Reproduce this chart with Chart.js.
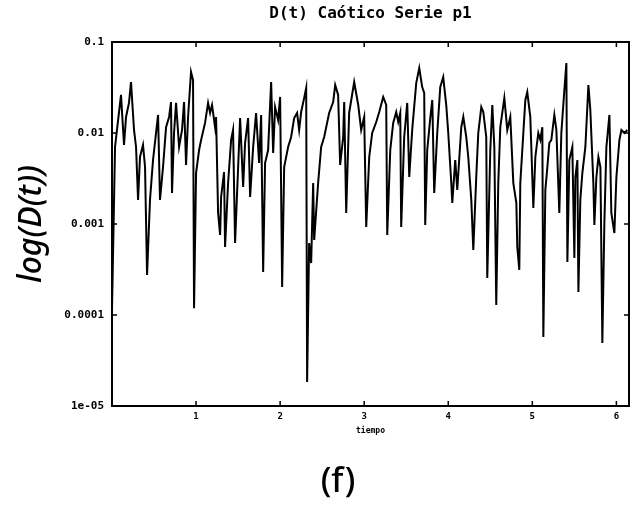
<!DOCTYPE html>
<html>
<head>
<meta charset="utf-8">
<script src="https://cdn.jsdelivr.net/npm/chart.js@4/dist/chart.umd.min.js"></script>
<style>
  html, body { margin: 0; padding: 0; background: #fff; }
  #wrap { width: 636px; height: 515px; }
  canvas { display: block; }
</style>
</head>
<body>
<div id="wrap"><canvas id="c" width="636" height="515"></canvas></div>
<script>
// ---- data ----
const chartTitle = "D(t) Caótico Serie p1";
const xAxisTitle = "tiempo";
const yAxisTitle = "log(D(t))";
const panelLabel = "(f)";

const xTickValues = [1, 2, 3, 4, 5, 6];
const xTickLabels = ["1", "2", "3", "4", "5", "6"];
const yTickValues = [0.1, 0.01, 0.001, 0.0001, 0.00001];
const yTickLabels = ["0.1", "0.01", "0.001", "0.0001", "1e-05"];

const time = [
  0.000,0.036,0.107,0.143,0.167,0.202,0.226,0.262,0.286,0.310,
  0.333,0.369,0.393,0.417,0.452,0.488,0.548,0.571,0.607,0.643,
  0.679,0.702,0.714,0.738,0.762,0.798,0.833,0.857,0.881,0.905,
  0.940,0.964,0.976,1.000,1.036,1.060,1.107,1.143,1.167,1.190,
  1.226,1.238,1.262,1.286,1.298,1.333,1.345,1.381,1.417,1.440,
  1.464,1.524,1.560,1.583,1.619,1.643,1.679,1.714,1.750,1.774,
  1.798,1.821,1.857,1.893,1.917,1.940,1.976,2.000,2.024,2.048,
  2.095,2.131,2.167,2.202,2.226,2.250,2.286,2.310,2.321,2.345,
  2.369,2.393,2.405,2.452,2.488,2.524,2.583,2.631,2.655,2.690,
  2.714,2.750,2.762,2.786,2.821,2.881,2.929,2.964,3.000,3.024,
  3.060,3.095,3.143,3.179,3.226,3.262,3.274,3.310,3.345,3.381,
  3.405,3.429,3.440,3.476,3.512,3.536,3.571,3.619,3.655,3.690,
  3.714,3.726,3.750,3.786,3.810,3.833,3.869,3.905,3.940,3.976,
  4.000,4.036,4.048,4.083,4.107,4.155,4.179,4.214,4.238,4.274,
  4.298,4.333,4.357,4.393,4.417,4.452,4.464,4.500,4.524,4.548,
  4.571,4.595,4.619,4.667,4.702,4.738,4.774,4.810,4.821,4.845,
  4.857,4.893,4.917,4.940,4.976,4.988,5.012,5.036,5.071,5.095,
  5.119,5.131,5.155,5.179,5.202,5.226,5.262,5.286,5.321,5.345,
  5.381,5.405,5.417,5.440,5.476,5.500,5.512,5.536,5.548,5.571,
  5.595,5.631,5.667,5.690,5.726,5.738,5.762,5.786,5.810,5.833,
  5.857,5.881,5.917,5.940,5.976,6.000,6.036,6.060,6.095,6.131
];

const dValues = [
  0.000114,0.00702,0.0262,0.00738,0.0150,0.0214,0.0363,0.0108,0.00702,0.00184,
  0.00545,0.00738,0.00423,0.000275,0.00184,0.00505,0.0158,0.00184,0.00423,0.0116,
  0.0150,0.0219,0.00219,0.0100,0.0214,0.00702,0.0108,0.0219,0.00445,0.0150,
  0.0468,0.0382,0.000119,0.00363,0.00650,0.00838,0.0129,0.0214,0.0166,0.0203,
  0.0116,0.0150,0.00132,0.000757,0.00198,0.00372,0.000558,0.00282,0.00838,0.0108,
  0.000618,0.0146,0.00255,0.00776,0.0146,0.00198,0.00702,0.0166,0.00468,0.0158,
  0.000297,0.00468,0.00650,0.0363,0.00603,0.0193,0.0139,0.0249,0.000203,0.00423,
  0.00702,0.00904,0.0146,0.0166,0.0108,0.0170,0.0243,0.0313,0.0000184,0.000618,
  0.000372,0.00282,0.000667,0.00282,0.00702,0.00904,0.0166,0.0219,0.0337,0.0262,
  0.00445,0.00904,0.0219,0.00132,0.0166,0.0363,0.0203,0.0108,0.0150,0.000927,
  0.00545,0.0100,0.0132,0.0170,0.0249,0.0203,0.000757,0.00650,0.0129,0.0170,
  0.0132,0.0166,0.000927,0.00904,0.0214,0.00328,0.0108,0.0354,0.0518,0.0320,
  0.0275,0.000975,0.00650,0.0146,0.0231,0.00219,0.0100,0.0320,0.0412,0.0203,
  0.0100,0.00282,0.00170,0.00505,0.00237,0.0116,0.0150,0.00904,0.00545,0.00184,
  0.000518,0.00328,0.0100,0.0193,0.0170,0.00904,0.000255,0.00650,0.0203,0.00702,
  0.000129,0.00282,0.0116,0.0243,0.0108,0.0150,0.00282,0.00170,0.000558,0.000313,
  0.00282,0.0100,0.0231,0.0282,0.0150,0.00702,0.00150,0.00545,0.0100,0.00838,
  0.0116,0.0000573,0.00237,0.00423,0.00776,0.00838,0.0158,0.0108,0.00132,0.0100,
  0.0297,0.0588,0.000382,0.00505,0.00702,0.000423,0.00328,0.00505,0.000179,0.00184,
  0.00363,0.00702,0.0337,0.0179,0.00282,0.000975,0.00328,0.00545,0.00423,0.0000492,
  0.00103,0.00702,0.0158,0.00132,0.000796,0.00328,0.00838,0.0108,0.0100,0.0108
];

// ---- chart ----
Chart.defaults.color = '#000';
const monoFont = '"DejaVu Sans Mono", "Liberation Mono", monospace';

const framePlugin = {
  id: 'framePlugin',
  afterDatasetsDraw(chart) {
    const {ctx, chartArea: a, scales} = chart;
    ctx.save();
    ctx.strokeStyle = '#000';
    ctx.lineWidth = 2;
    ctx.strokeRect(a.left, a.top, a.right - a.left, a.bottom - a.top);
    ctx.lineWidth = 1.5;
    const tl = 5;
    scales.x.ticks.forEach(t => {
      const px = scales.x.getPixelForValue(t.value);
      ctx.beginPath();
      ctx.moveTo(px, a.bottom); ctx.lineTo(px, a.bottom - tl);
      ctx.moveTo(px, a.top); ctx.lineTo(px, a.top + tl);
      ctx.stroke();
    });
    scales.y.ticks.forEach(t => {
      const py = scales.y.getPixelForValue(t.value);
      ctx.beginPath();
      ctx.moveTo(a.left, py); ctx.lineTo(a.left + tl, py);
      ctx.moveTo(a.right, py); ctx.lineTo(a.right - tl, py);
      ctx.stroke();
    });
    // panel label below the plot
    ctx.fillStyle = '#000';
    ctx.font = '500 34px "Noto Sans", sans-serif';
    ctx.textAlign = 'center';
    ctx.textBaseline = 'middle';
    ctx.fillText(panelLabel, 338, 482);
    ctx.restore();
  }
};

new Chart(document.getElementById('c'), {
  type: 'line',
  data: {
    datasets: [{
      data: time.map((t, i) => ({x: t, y: dValues[i]})),
      borderColor: '#000',
      borderWidth: 2,
      pointRadius: 0,
      tension: 0,
      fill: false
    }]
  },
  options: {
    responsive: false,
    animation: false,
    devicePixelRatio: 1,
    layout: { padding: { top: 0, right: 7, bottom: 0, left: 0 } },
    plugins: {
      legend: { display: false },
      tooltip: { enabled: false },
      title: {
        display: true,
        text: chartTitle,
        fullSize: false,
        color: '#000',
        font: { family: monoFont, size: 16, weight: 'bold', lineHeight: 1.2 },
        padding: { top: 4, bottom: 18.8 }
      }
    },
    scales: {
      x: {
        type: 'linear',
        min: 0,
        max: 6.15,
        afterBuildTicks: s => { s.ticks = xTickValues.map(v => ({value: v})); },
        afterFit: s => { s.height = 109; },
        grid: { display: false, drawTicks: false },
        border: { display: false },
        ticks: {
          padding: 5,
          font: { family: monoFont, size: 9, weight: 'bold' },
          callback: v => { const i = xTickValues.indexOf(v); return i >= 0 ? xTickLabels[i] : ''; },
          maxRotation: 0
        },
        title: {
          display: true,
          text: xAxisTitle,
          font: { family: monoFont, size: 8, weight: 'bold', lineHeight: 1.2 },
          padding: { top: 0, bottom: 79 }
        }
      },
      y: {
        type: 'logarithmic',
        min: 0.00001,
        max: 0.1,
        afterBuildTicks: s => { s.ticks = yTickValues.map(v => ({value: v})); },
        afterFit: s => { s.width = 112; },
        grid: { display: false, drawTicks: false },
        border: { display: false },
        ticks: {
          padding: 8,
          font: { family: monoFont, size: 11, weight: 'bold' },
          callback: v => {
            let best = 0;
            yTickValues.forEach((t, i) => { if (Math.abs(Math.log10(t) - Math.log10(v)) < Math.abs(Math.log10(yTickValues[best]) - Math.log10(v))) best = i; });
            return yTickLabels[best];
          }
        },
        title: {
          display: true,
          text: yAxisTitle,
          font: { family: '"Noto Sans", sans-serif', size: 32, style: 'italic', weight: '500', lineHeight: 1.2 },
          padding: { top: 13, bottom: 0 }
        }
      }
    }
  },
  plugins: [framePlugin]
});
</script>
</body>
</html>
